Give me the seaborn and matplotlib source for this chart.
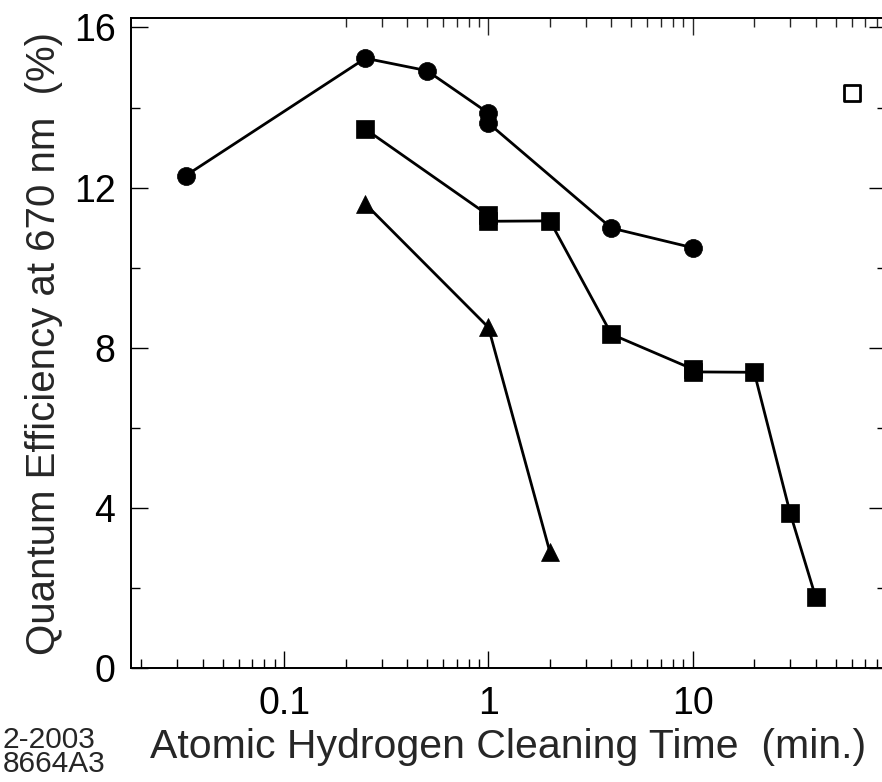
import numpy as np
import pandas as pd
import matplotlib
matplotlib.use("Agg")
import matplotlib.pyplot as plt
import seaborn as sns

# ---- data ----
circle_time = [0.033, 0.25, 0.5, 1.0, 1.0, 4.0, 10.0]
circle_qe = [12.30, 15.23, 14.92, 13.86, 13.61, 10.99, 10.50]

square_time = [0.25, 1.0, 1.0, 2.0, 4.0, 10.0, 10.0, 20.0, 30.0, 40.0]
square_qe = [13.46, 11.31, 11.16, 11.17, 8.34, 7.47, 7.40, 7.39, 3.87, 1.77]

triangle_time = [0.25, 1.0, 2.0]
triangle_qe = [11.59, 8.51, 2.90]

open_time = [60.0]
open_qe = [14.36]

x_major = [0.1, 1, 10]
x_major_labels = ["0.1", "1", "10"]
y_major = [0, 4, 8, 12, 16]
y_minor = [2, 6, 10, 14]

sns.set_style("ticks")
plt.rcParams["font.family"] = ["Liberation Sans", "DejaVu Sans"]

df = pd.concat([
    pd.DataFrame({"time": circle_time, "qe": circle_qe, "series": "circle"}),
    pd.DataFrame({"time": square_time, "qe": square_qe, "series": "square"}),
    pd.DataFrame({"time": triangle_time, "qe": triangle_qe, "series": "triangle"}),
], ignore_index=True)
df_open = pd.DataFrame({"time": open_time, "qe": open_qe})

fig = plt.figure(figsize=(8.82, 7.82), dpi=100)
ax = fig.add_axes([130.7 / 882, 1 - 668.3 / 782, (886 - 130.7) / 882, (668.3 - 17.8) / 782])

sns.lineplot(data=df, x="time", y="qe", style="series",
             markers={"circle": "o", "square": "s", "triangle": "^"},
             dashes=False, color="black", estimator=None, sort=False,
             markersize=13, markeredgecolor="black", markeredgewidth=0.5,
             linewidth=2.0, legend=False, ax=ax)
sns.scatterplot(data=df_open, x="time", y="qe", marker="s", s=12 ** 2,
                facecolor="white", edgecolor="black", linewidth=2.0,
                legend=False, ax=ax, zorder=5)

ax.set_xscale("log")
ax.set_xlim(0.01774, 88.3)
ax.set_ylim(0, 16.24)

ax.set_xticks(x_major)
ax.set_xticklabels(x_major_labels)
minor_x = [m * d for d in (0.01, 0.1, 1, 10) for m in range(2, 10) if 0.018 < m * d < 88]
ax.set_xticks(minor_x, minor=True)
ax.set_yticks(y_major)
ax.set_yticks(y_minor, minor=True)

ax.tick_params(axis="both", which="both", direction="in", colors="black",
               labelsize=27, width=1.0)
ax.tick_params(axis="both", which="major", length=12, pad=13)
ax.tick_params(axis="both", which="minor", length=6.5)
ax.tick_params(axis="y", which="both", left=True, right=True)
ax.tick_params(axis="x", which="both", bottom=True, top=False)
ax.tick_params(axis="y", which="major", pad=11)

# top axis ticks (start at 0.2 in the reference)
ax2 = ax.twiny()
ax2.set_xscale("log")
ax2.set_xlim(ax.get_xlim())
ax2.set_xticks([1, 10])
ax2.set_xticks([t for t in minor_x if t >= 0.2], minor=True)
ax2.set_xticklabels([])
ax2.xaxis.set_minor_formatter(matplotlib.ticker.NullFormatter())
ax2.tick_params(axis="x", which="both", direction="in", top=True, labeltop=False, width=1.0)
ax2.tick_params(axis="x", which="major", length=12)
ax2.tick_params(axis="x", which="minor", length=6.5)

for a in (ax, ax2):
    for s in a.spines.values():
        s.set_linewidth(1.3)
        s.set_color("black")

ax.set_xlabel("Atomic Hydrogen Cleaning Time  (min.)", fontsize=29.5, labelpad=4)
ax.set_ylabel("Quantum Efficiency at 670 nm  (%)", fontsize=29, labelpad=8)

fig.text(0.003, 1 - 726 / 782, "2-2003\n8664A3", fontsize=21.5, va="top", ha="left",
         linespacing=0.82)

fig.savefig("out.png", dpi=100)
